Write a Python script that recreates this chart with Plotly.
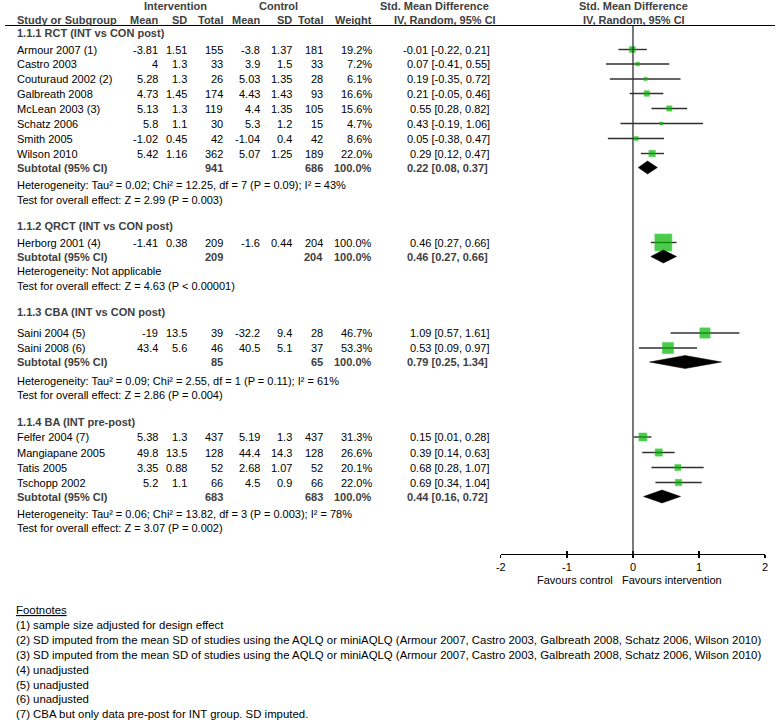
import plotly.graph_objects as go

# ---------------- data ----------------
studies = ["Armour 2007 (1)", "Castro 2003", "Couturaud 2002 (2)", "Galbreath 2008",
           "McLean 2003 (3)", "Schatz 2006", "Smith 2005", "Wilson 2010",
           "Herborg 2001 (4)",
           "Saini 2004 (5)", "Saini 2008 (6)",
           "Felfer 2004 (7)", "Mangiapane 2005", "Tatis 2005", "Tschopp 2002"]
study_group = [0, 0, 0, 0, 0, 0, 0, 0, 1, 2, 2, 3, 3, 3, 3]
int_mean = [-3.81, 4, 5.28, 4.73, 5.13, 5.8, -1.02, 5.42, -1.41, -19, 43.4, 5.38, 49.8, 3.35, 5.2]
int_sd = [1.51, 1.3, 1.3, 1.45, 1.3, 1.1, 0.45, 1.16, 0.38, 13.5, 5.6, 1.3, 13.5, 0.88, 1.1]
int_n = [155, 33, 26, 174, 119, 30, 42, 362, 209, 39, 46, 437, 128, 52, 66]
con_mean = [-3.8, 3.9, 5.03, 4.43, 4.4, 5.3, -1.04, 5.07, -1.6, -32.2, 40.5, 5.19, 44.4, 2.68, 4.5]
con_sd = [1.37, 1.5, 1.35, 1.43, 1.35, 1.2, 0.4, 1.25, 0.44, 9.4, 5.1, 1.3, 14.3, 1.07, 0.9]
con_n = [181, 33, 28, 93, 105, 15, 42, 189, 204, 28, 37, 437, 128, 52, 66]
weight = [19.2, 7.2, 6.1, 16.6, 15.6, 4.7, 8.6, 22.0, 100.0, 46.7, 53.3, 31.3, 26.6, 20.1, 22.0]
smd = [-0.01, 0.07, 0.19, 0.21, 0.55, 0.43, 0.05, 0.29, 0.46, 1.09, 0.53, 0.15, 0.39, 0.68, 0.69]
ci_lo = [-0.22, -0.41, -0.35, -0.05, 0.28, -0.19, -0.38, 0.12, 0.27, 0.57, 0.09, 0.01, 0.14, 0.28, 0.34]
ci_hi = [0.21, 0.55, 0.72, 0.46, 0.82, 1.06, 0.47, 0.47, 0.66, 1.61, 0.97, 0.28, 0.63, 1.07, 1.04]

subgroups = ["1.1.1 RCT (INT vs CON post)", "1.1.2 QRCT (INT vs CON post)",
             "1.1.3 CBA (INT vs CON post)", "1.1.4 BA (INT pre-post)"]
sub_int_n = [941, 209, 85, 683]
sub_con_n = [686, 204, 65, 683]
sub_weight = [100.0, 100.0, 100.0, 100.0]
sub_smd = [0.22, 0.46, 0.79, 0.44]
sub_lo = [0.08, 0.27, 0.25, 0.16]
sub_hi = [0.37, 0.66, 1.34, 0.72]
heterogeneity = [
    "Heterogeneity: Tau² = 0.02; Chi² = 12.25, df = 7 (P = 0.09); I² = 43%",
    "Heterogeneity: Not applicable",
    "Heterogeneity: Tau² = 0.09; Chi² = 2.55, df = 1 (P = 0.11); I² = 61%",
    "Heterogeneity: Tau² = 0.06; Chi² = 13.82, df = 3 (P = 0.003); I² = 78%",
]
overall_effect = [
    "Test for overall effect: Z = 2.99 (P = 0.003)",
    "Test for overall effect: Z = 4.63 (P < 0.00001)",
    "Test for overall effect: Z = 2.86 (P = 0.004)",
    "Test for overall effect: Z = 3.07 (P = 0.002)",
]
footnotes = [
    "(1) sample size adjusted for design effect",
    "(2) SD imputed from the mean SD of studies using the AQLQ or miniAQLQ (Armour 2007, Castro 2003, Galbreath 2008, Schatz 2006, Wilson 2010)",
    "(3) SD imputed from the mean SD of studies using the AQLQ or miniAQLQ (Armour 2007, Castro 2003, Galbreath 2008, Schatz 2006, Wilson 2010)",
    "(4) unadjusted",
    "(5) unadjusted",
    "(6) unadjusted",
    "(7) CBA but only data pre-post for INT group. SD imputed.",
]
tick_vals = [-2, -1, 0, 1, 2]
tick_text = ["-2", "-1", "0", "1", "2"]
axis_range = [-2, 2]
favours_left = "Favours control"
favours_right = "Favours intervention"

# ---------------- layout (pixel positions) ----------------
W, H = 778, 720
FONT = "Liberation Sans, Arial, Helvetica, sans-serif"
FS = 11
FOOT_FS = 11.4
BOLD_COL = "#404040"

# row y-positions per subgroup (pixels from top)
group_rows = [
    dict(title=33, studies=[49.5, 64, 79, 93.5, 108.5, 123.5, 138.5, 153.5], sub=167.5, het=185, test=199.5),
    dict(title=226, studies=[242.5], sub=256.5, het=271, test=285.5),
    dict(title=312, studies=[333, 348], sub=362, het=380.5, test=395),
    dict(title=422, studies=[437, 452.5, 467.5, 482.5], sub=496.5, het=513.5, test=528),
]
axis_y = 554
foot_y0, foot_step = 610, 14.9

# column right edges
col_x = dict(im=157, isd=186, inn=222, cm=260, csd=292, cn=323, w=373, ci=492)

annotations = []


def txt(x, y, s, anchor="left", bold=False, color=None, size=FS):
    annotations.append(dict(
        x=x, y=y, xref="x", yref="y", text=("<b>%s</b>" % s) if bold else s,
        showarrow=False, xanchor=anchor, yanchor="middle",
        font=dict(family=FONT, size=size, color=color or (BOLD_COL if bold else "black")),
    ))


def num(v):
    return f"{v:g}"


# headers
txt(172, 5.5, "Intervention", "center", True)
txt(276, 5.5, "Control", "center", True)
txt(434, 5.5, "Std. Mean Difference", "center", True)
txt(635, 5.5, "Std. Mean Difference", "center", True)
txt(10, 19.5, "Study or Subgroup", "left", True)
for key, lab in [("im", "Mean"), ("isd", "SD"), ("inn", "Total"), ("cm", "Mean"),
                 ("csd", "SD"), ("cn", "Total"), ("w", "Weight")]:
    txt(col_x[key], 19.5, lab, "right", True)
txt(445, 19.5, "IV, Random, 95% CI", "center", True)
txt(636, 19.5, "IV, Random, 95% CI", "center", True)

study_y = []
for g, rows in enumerate(group_rows):
    txt(10, rows["title"], subgroups[g], "left", True)
    idx = [i for i, sg in enumerate(study_group) if sg == g]
    for i, y in zip(idx, rows["studies"]):
        study_y.append(y)
        txt(10, y, studies[i])
        txt(col_x["im"], y, num(int_mean[i]), "right")
        txt(col_x["isd"], y, num(int_sd[i]), "right")
        txt(col_x["inn"], y, str(int_n[i]), "right")
        txt(col_x["cm"], y, num(con_mean[i]), "right")
        txt(col_x["csd"], y, num(con_sd[i]), "right")
        txt(col_x["cn"], y, str(con_n[i]), "right")
        txt(col_x["w"], y, f"{weight[i]:.1f}%", "right")
        txt(col_x["ci"], y, f"{smd[i]:.2f} [{ci_lo[i]:.2f}, {ci_hi[i]:.2f}]", "right")
    ys = rows["sub"]
    txt(10, ys, "Subtotal (95% CI)", "left", True)
    txt(col_x["inn"], ys, str(sub_int_n[g]), "right", True)
    txt(col_x["cn"], ys, str(sub_con_n[g]), "right", True)
    txt(col_x["w"], ys, f"{sub_weight[g]:.1f}%", "right", True)
    txt(col_x["ci"] - 2, ys, f"{sub_smd[g]:.2f} [{sub_lo[g]:.2f}, {sub_hi[g]:.2f}]", "right", True)
    txt(10, rows["het"], heterogeneity[g])
    txt(10, rows["test"], overall_effect[g])

# favours labels
txt(616, 580, favours_left, "right")
txt(621, 580, favours_right, "left")

# footnotes
txt(9, foot_y0, "<u>Footnotes</u>", size=FOOT_FS)
for k, f in enumerate(footnotes):
    txt(9, foot_y0 + foot_step * (k + 1), f, size=FOOT_FS)

fig = go.Figure()

# CI lines + study squares
sizes = [1.5 + 15.5 * (w / 100.0) ** 0.75 for w in weight]
fig.add_trace(go.Scatter(
    x=smd, y=study_y, xaxis="x2", yaxis="y", mode="markers",
    marker=dict(symbol="square", size=sizes, color="#00b400",
                line=dict(color="#14c414", width=0.6)),
    error_x=dict(type="data", symmetric=False,
                 array=[h - e for h, e in zip(ci_hi, smd)],
                 arrayminus=[e - l for e, l in zip(smd, ci_lo)],
                 color="#303030", thickness=1.4, width=0),
    hoverinfo="skip", showlegend=False,
))

# subtotal diamonds
DH = 6.5
for g, rows in enumerate(group_rows):
    y = rows["sub"]
    fig.add_trace(go.Scatter(
        x=[sub_lo[g], sub_smd[g], sub_hi[g], sub_smd[g], sub_lo[g]],
        y=[y, y - DH, y, y + DH, y],
        xaxis="x2", yaxis="y", mode="lines", fill="toself",
        fillcolor="black", line=dict(color="black", width=0.5),
        hoverinfo="skip", showlegend=False,
    ))

shapes = [
    dict(type="line", xref="paper", yref="y", x0=0, x1=1, y0=25.5, y1=25.5,
         line=dict(color="black", width=1.2)),
    dict(type="line", xref="x2", yref="y", x0=0, x1=0, y0=25.5, y1=axis_y,
         line=dict(color="#303030", width=1.3)),
]

dom = [501 / W, 768 / W]
pos = 1 - axis_y / H
fig.update_layout(
    width=W, height=H, margin=dict(l=0, r=0, t=0, b=0),
    paper_bgcolor="white", plot_bgcolor="rgba(0,0,0,0)",
    showlegend=False,
    xaxis=dict(range=[0, W], domain=[0, 1], visible=False, fixedrange=True),
    yaxis=dict(range=[H, 0], domain=[0, 1], visible=False, fixedrange=True),
    xaxis2=dict(range=axis_range, domain=dom, anchor="free", position=pos,
                showline=True, linecolor="black", linewidth=1.2,
                ticks="outside", ticklen=3, tickwidth=1.2, tickcolor="black",
                tickvals=tick_vals, ticktext=tick_text, showgrid=False, zeroline=False,
                fixedrange=True,
                tickfont=dict(family=FONT, size=FS, color="black")),
    xaxis3=dict(range=axis_range, domain=dom, anchor="free", position=pos,
                overlaying="x2", ticks="inside", ticklen=3, tickwidth=1.2, tickcolor="black",
                tickvals=tick_vals, showticklabels=False, showline=False,
                showgrid=False, zeroline=False, fixedrange=True),
    annotations=annotations, shapes=shapes,
)
# empty trace so that the overlay axis carrying the inner ticks is drawn
fig.add_trace(go.Scatter(x=[None], y=[None], xaxis="x3", yaxis="y", showlegend=False))

fig.write_html("out.html", config={"displayModeBar": False, "staticPlot": True},
               post_script="document.body.style.margin='0';")
